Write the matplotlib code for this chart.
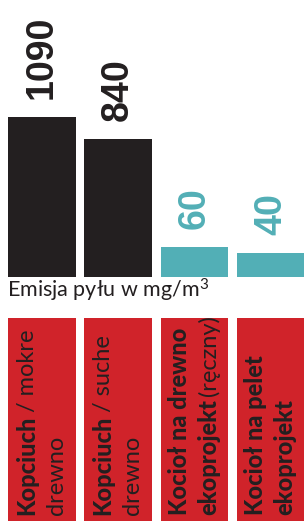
import matplotlib
matplotlib.use('Agg')
import matplotlib.pyplot as plt
from matplotlib.transforms import IdentityTransform
import numpy as np

# ---- data ----
categories = ["Kopciuch / mokre drewno", "Kopciuch / suche drewno",
              "Kocioł na drewno ekoprojekt (ręczny)", "Kocioł na pelet ekoprojekt"]
values = [1090, 840, 60, 40]
value_labels = ["1090", "840", "60", "40"]
# category label lines: (text, bold)
label_lines = [
    [[("Kopciuch", True), ("/ mokre", False)], [("drewno", False)]],
    [[("Kopciuch", True), ("/ suche", False)], [("drewno", False)]],
    [[("Kocioł na drewno", True)], [("ekoprojekt", True), ("(ręczny)", False)]],
    [[("Kocioł na pelet", True)], [("ekoprojekt", True)]],
]
axis_title = "Emisja pyłu w mg/m$^3$"

# ---- styles ----
DARK = "#231f20"
TEAL = "#52afb6"
RED = "#d0232a"
bar_colors = [DARK, DARK, TEAL, TEAL]

plt.rcParams['mathtext.fontset'] = 'custom'
plt.rcParams['mathtext.rm'] = 'Lato'
plt.rcParams['mathtext.it'] = 'Lato'
plt.rcParams['mathtext.default'] = 'rm'

W, H = 304, 521
fig = plt.figure(figsize=(W / 100, H / 100), dpi=100)

base_px = 277.3
ax = fig.add_axes([8 / W, (H - base_px) / H, (W - 8) / W, base_px / H])
p = 0.57
ax.set_yscale('function', functions=(lambda v: np.power(np.clip(v, 0, None), p),
                                      lambda v: np.power(np.clip(v, 0, None), 1 / p)))
x = np.arange(len(values))
bw = 0.885
ax.bar(x, values, width=bw, color=bar_colors)
ax.set_xlim(-bw / 2, 3 + (304 - 271) / 76.3)
ax.set_ylim(0, 2853)
ax.axis('off')

for xi, v, lbl, c in zip(x, values, value_labels, bar_colors):
    ax.annotate(lbl, (xi, v), xytext=(0, 13), textcoords='offset points',
                rotation=90, ha='center', va='bottom', fontsize=27,
                fontweight='bold', family='Liberation Sans', color=c)

fig.text(7 / W, (H - 297.3) / H, axis_title, ha='left', va='baseline',
         fontsize=15.5, family='Lato', color=DARK)

box_top = 318
ax2 = fig.add_axes([8 / W, 0, (W - 8) / W, (H - box_top) / H])
ax2.bar(x, [1] * len(values), width=bw, color=RED)
ax2.set_xlim(ax.get_xlim())
ax2.set_ylim(0, 1)
ax2.axis('off')

fig.canvas.draw()
renderer = fig.canvas.get_renderer()
fs = 17
space = 3.5
for i, lines in enumerate(label_lines):
    left = ax2.transData.transform((x[i] - bw / 2, 0))[0]
    for j, line in enumerate(lines):
        bx = left + 26 + j * 29
        y = 6
        for s, bold in line:
            t = fig.text(bx, y, s, transform=IdentityTransform(), rotation=90,
                         rotation_mode='anchor', ha='left', va='baseline',
                         fontsize=fs, family='Lato',
                         fontweight=900 if bold else 'normal', color=DARK)
            ext = t.get_window_extent(renderer)
            y += ext.height + space

fig.savefig('out.png', dpi=100)
